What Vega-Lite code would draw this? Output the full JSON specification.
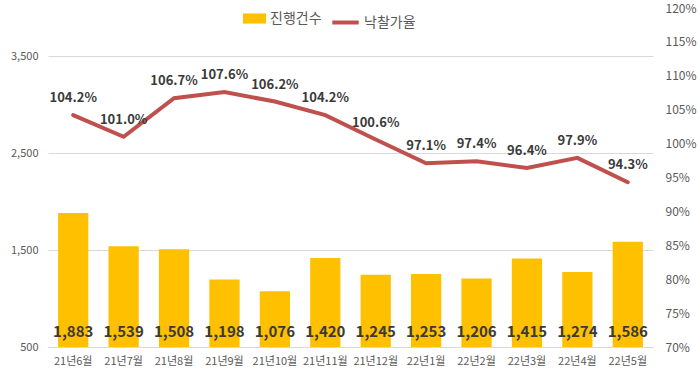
{
  "$schema": "https://vega.github.io/schema/vega-lite/v6.json",
  "width": 605,
  "height": 339,
  "autosize": {"type": "none"},
  "padding": {"left": 48, "top": 8, "right": 47, "bottom": 26},
  "background": "white",
  "config": {
    "font": "Noto Sans CJK KR",
    "view": {"stroke": null},
    "axisLeft": {
      "domain": false,
      "ticks": false,
      "grid": true,
      "gridColor": "#D9D9D9",
      "labelColor": "#595959",
      "labelFontSize": 11,
      "labelPadding": 10
    },
    "axisRight": {
      "domain": false,
      "ticks": false,
      "grid": false,
      "labelColor": "#595959",
      "labelFontSize": 12,
      "labelPadding": 12,
      "labelOverlap": false
    }
  },
  "data": {
    "values": [
      {"month": "21년6월", "count": 1883, "rate": 1.042},
      {"month": "21년7월", "count": 1539, "rate": 1.010},
      {"month": "21년8월", "count": 1508, "rate": 1.067},
      {"month": "21년9월", "count": 1198, "rate": 1.076},
      {"month": "21년10월", "count": 1076, "rate": 1.062},
      {"month": "21년11월", "count": 1420, "rate": 1.042},
      {"month": "21년12월", "count": 1245, "rate": 1.006},
      {"month": "22년1월", "count": 1253, "rate": 0.971},
      {"month": "22년2월", "count": 1206, "rate": 0.974},
      {"month": "22년3월", "count": 1415, "rate": 0.964},
      {"month": "22년4월", "count": 1274, "rate": 0.979},
      {"month": "22년5월", "count": 1586, "rate": 0.943}
    ]
  },
  "encoding": {
    "x": {
      "field": "month",
      "type": "ordinal",
      "sort": null,
      "scale": {"paddingInner": 0.4, "paddingOuter": 0.2},
      "axis": {
        "title": null,
        "labelAngle": 0,
        "ticks": false,
        "domain": true,
        "domainColor": "#D9D9D9",
        "labelColor": "#595959",
        "labelFontSize": 11,
        "labelPadding": 8
      }
    }
  },
  "layer": [
    {
      "layer": [
        {
          "mark": {"type": "bar"},
          "encoding": {
            "y": {
              "field": "count",
              "type": "quantitative",
              "scale": {"domain": [500, 4000], "nice": false, "zero": false},
              "axis": {
                "title": null,
                "orient": "left",
                "values": [500, 1500, 2500, 3500],
                "labelExpr": "format(datum.value, ',')"
              }
            },
            "y2": {"datum": 500},
            "fill": {
              "datum": "진행건수",
              "scale": {"range": ["#FFC000"]},
              "legend": {
                "title": null,
                "orient": "none",
                "legendX": 195,
                "legendY": -1,
                "symbolType": "M-1,-0.44H1V0.44H-1Z",
                "symbolSize": 529,
                "symbolStrokeWidth": 0,
                "labelFontSize": 14,
                "labelColor": "#595959",
                "labelOffset": 4
              }
            }
          }
        },
        {
          "mark": {"type": "text", "fontSize": 15, "fontWeight": "bold", "color": "#3A3A3A", "dy": -15},
          "encoding": {
            "y": {
              "datum": 500,
              "type": "quantitative",
              "axis": {
                "title": null,
                "orient": "left",
                "values": [500, 1500, 2500, 3500],
                "labelExpr": "format(datum.value, ',')"
              }
            },
            "text": {"field": "count", "type": "quantitative", "format": ","}
          }
        }
      ]
    },
    {
      "layer": [
        {
          "mark": {"type": "line", "strokeWidth": 4, "strokeCap": "round"},
          "encoding": {
            "y": {
              "field": "rate",
              "type": "quantitative",
              "scale": {"domain": [0.7, 1.2], "nice": false, "zero": false},
              "axis": {
                "title": null,
                "orient": "right",
                "values": [0.7, 0.75, 0.8, 0.85, 0.9, 0.95, 1.0, 1.05, 1.1, 1.15, 1.2],
                "format": ".0%"
              }
            },
            "stroke": {
              "datum": "낙찰가율",
              "scale": {"range": ["#C0504D"]},
              "legend": {
                "title": null,
                "orient": "none",
                "legendX": 282,
                "legendY": -1,
                "symbolType": "stroke",
                "symbolSize": 700,
                "symbolStrokeWidth": 4,
                "labelFontSize": 14,
                "labelColor": "#595959",
                "labelOffset": 3
              }
            }
          }
        },
        {
          "mark": {"type": "text", "fontSize": 13, "fontWeight": "bold", "color": "#3A3A3A", "dy": -17},
          "encoding": {
            "y": {
              "field": "rate",
              "type": "quantitative",
              "axis": {
                "title": null,
                "orient": "right",
                "values": [0.7, 0.75, 0.8, 0.85, 0.9, 0.95, 1.0, 1.05, 1.1, 1.15, 1.2],
                "format": ".0%"
              }
            },
            "text": {"field": "rate", "type": "quantitative", "format": ".1%"}
          }
        }
      ]
    }
  ],
  "resolve": {"scale": {"y": "independent"}}
}
